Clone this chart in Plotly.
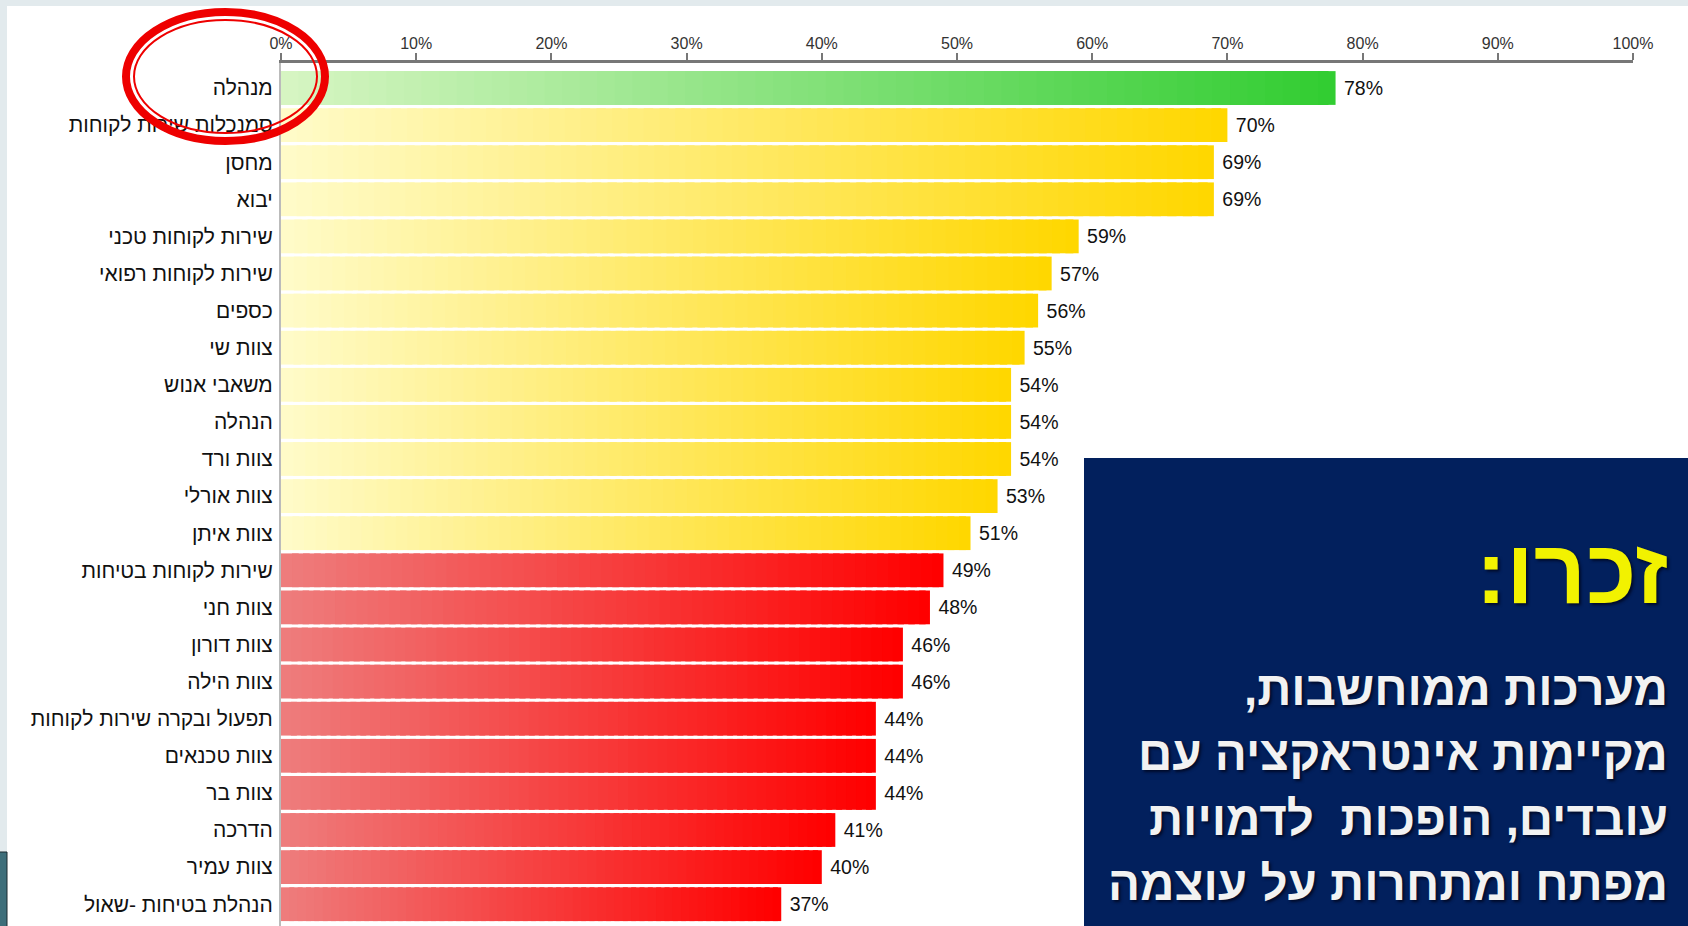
import plotly.graph_objects as go

# ---------------- data ----------------
categories = [
    "מנהלה",
    "סמנכלות שירות לקוחות",
    "מחסן",
    "יבוא",
    "שירות לקוחות טכני",
    "שירות לקוחות רפואי",
    "כספים",
    "צוות שי",
    "משאבי אנוש",
    "הנהלה",
    "צוות ורד",
    "צוות אורלי",
    "צוות איתן",
    "שירות לקוחות בטיחות",
    "צוות חני",
    "צוות דורון",
    "צוות הילה",
    "תפעול ובקרה שירות לקוחות",
    "צוות טכנאים",
    "צוות בר",
    "הדרכה",
    "צוות עמיר",
    "הנהלת בטיחות -שאול",
]
values = [78, 70, 69, 69, 59, 57, 56, 55, 54, 54, 54, 53, 51,
          49, 48, 46, 46, 44, 44, 44, 41, 40, 37]
groups = ["green"] + ["yellow"] * 12 + ["red"] * 10
tick_values = [0, 10, 20, 30, 40, 50, 60, 70, 80, 90, 100]

title_text = "זכרו:\u200f"
body_lines = [
    "מערכות ממוחשבות,\u200f",
    "מקיימות אינטראקציה עם",
    "עובדים, הופכות\u00a0 לדמויות",
    "מפתח ומתחרות על עוצמה",
]

# ---------------- style ----------------
W, H = 1688, 926
L, R, T, B = 281, 55, 63, 0
gradients = {
    "green": ((214, 245, 194), (50, 205, 50)),
    "yellow": ((255, 251, 200), (255, 215, 0)),
    "red": ((238, 124, 124), (255, 0, 0)),
}
K = 60
FONT = "Arial, Liberation Sans, DejaVu Sans, sans-serif"


def mix(c0, c1, t):
    return "rgb(%d,%d,%d)" % tuple(round(a + (b - a) * t) for a, b in zip(c0, c1))


def px(x):
    return (x - L) / (W - L - R)


def py(y):
    return (H - B - y) / (H - T - B)


fig = go.Figure()
for k in range(K):
    t = k / (K - 1)
    last = k == K - 1
    widths = [v / K * (1.0 if last else 1.6) for v in values]
    bases = [v * k / K for v in values]
    colors = [mix(*gradients[g], t) for g in groups]
    fig.add_trace(go.Bar(
        y=categories, x=widths, base=bases, orientation="h",
        marker=dict(color=colors, line=dict(width=0)),
        showlegend=False, hoverinfo="skip",
        text=["\u00a0%d%%" % v for v in values] if last else None,
        textposition="outside" if last else None,
        textfont=dict(family=FONT, size=19.5, color="#111111"),
        cliponaxis=False,
    ))

spacing = 37.1
first_center = 88
y_top = (first_center - T) / spacing
y_bot = (H - B - first_center) / spacing

shapes = [
    # white panel
    dict(type="rect", xref="paper", yref="paper", layer="below",
         x0=px(7), x1=px(W + 5), y0=py(H + 5), y1=py(6),
         fillcolor="white", line=dict(width=0)),
    # photo fragment bottom-left
    dict(type="rect", xref="paper", yref="paper", layer="above",
         x0=px(-2), x1=px(7), y0=py(H + 5), y1=py(852),
         fillcolor="#3d6e7a", line=dict(color="#1a2a30", width=1)),
    # navy box
    dict(type="rect", xref="paper", yref="paper", layer="above",
         x0=px(1084), x1=px(W + 10), y0=py(H + 10), y1=py(458),
         fillcolor="#02205d", line=dict(width=0)),
    # red circle (double line)
    dict(type="circle", xref="paper", yref="paper", layer="above",
         x0=px(126), x1=px(325), y0=py(141), y1=py(12),
         line=dict(color="#ee0000", width=8)),
    dict(type="circle", xref="paper", yref="paper", layer="above",
         x0=px(134), x1=px(317), y0=py(133), y1=py(20),
         line=dict(color="#ee0000", width=2)),
]

annotations = [
    dict(xref="paper", yref="paper", x=px(1670), y=py(571),
         xanchor="right", yanchor="middle", showarrow=False,
         text=title_text,
         font=dict(family=FONT, size=91, color="#f2f200", weight="bold",
                   shadow="2px 2px 3px #000a28")),
]
line_centers = [688, 753, 818, 883]
for txt, yc in zip(body_lines, line_centers):
    annotations.append(dict(
        xref="paper", yref="paper", x=px(1670), y=py(yc),
        xanchor="right", yanchor="middle", showarrow=False, text=txt,
        font=dict(family=FONT, size=47.5, color="#f2f2f2", weight="bold",
                  shadow="2px 2px 3px #000a28")))

fig.update_layout(
    width=W, height=H,
    margin=dict(l=L, r=R, t=T, b=B, pad=0),
    paper_bgcolor="#e2eaed",
    plot_bgcolor="rgba(0,0,0,0)",
    barmode="overlay", bargap=0.09,
    shapes=shapes, annotations=annotations,
    xaxis=dict(
        side="top", range=[0, 100], tickvals=tick_values,
        ticktext=["%d%%" % v for v in tick_values],
        showgrid=False, zeroline=False,
        showline=True, linecolor="#777777", linewidth=2.5,
        ticks="outside", ticklen=7, tickwidth=1.5, tickcolor="#777777",
        ticklabelstandoff=-2,
        tickfont=dict(family=FONT, size=16, color="#333333"),
        fixedrange=True,
    ),
    yaxis=dict(
        type="category", categoryorder="array", categoryarray=categories,
        range=[y_bot, -y_top],
        showgrid=False, zeroline=False,
        showline=True, linecolor="#bbbbbb", linewidth=2,
        ticks="", ticklabelstandoff=2,
        tickfont=dict(family=FONT, size=21, color="#111111"),
        fixedrange=True,
    ),
    showlegend=False,
)

fig.write_html("out.html")
